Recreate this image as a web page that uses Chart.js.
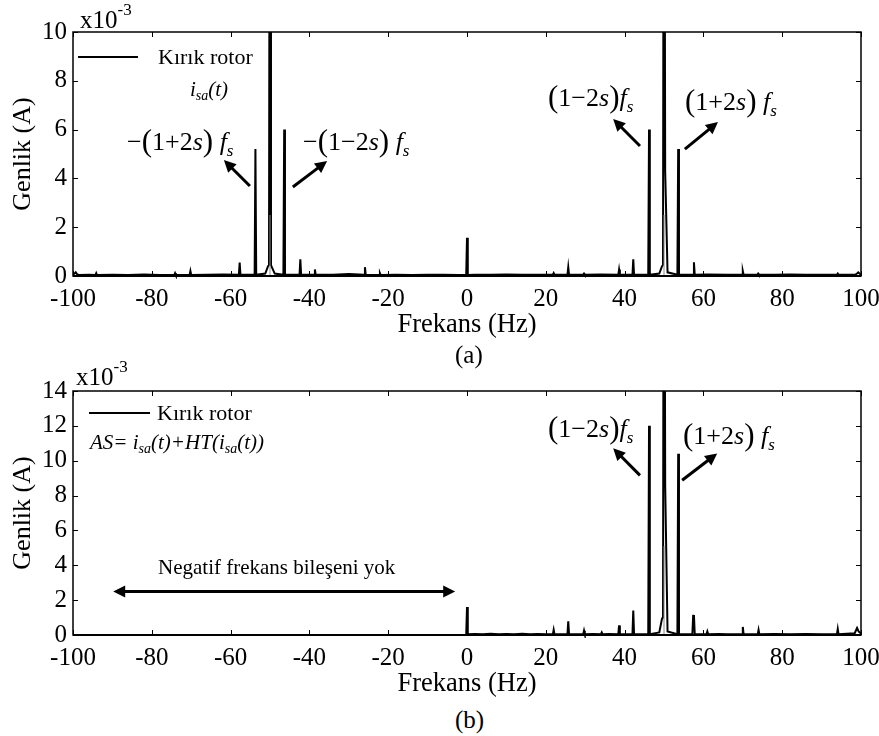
<!DOCTYPE html>
<html>
<head>
<meta charset="utf-8">
<script src="https://cdn.jsdelivr.net/npm/chart.js@4.4.1/dist/chart.umd.min.js"></script>
<style>
  html, body { margin:0; padding:0; background:#fff; }
  #wrap { position:relative; width:879px; height:736px; overflow:hidden; background:#fff; }
  canvas { position:absolute; left:0; }
  .t { position:absolute; font-family:'Liberation Serif','Times New Roman',serif; color:#000; white-space:nowrap; line-height:1; }
  .ann { font-size:26px; }
  .ann .p { font-size:31px; display:inline-block; transform:translateY(1px); }
  .ann i { font-style:italic; }
  .ann sub { font-size:17px; font-style:italic; vertical-align:-6px; line-height:0; }
  .leg { font-size:22px; }
  .form { font-size:21px; font-style:italic; }
  .form sub { font-size:14px; vertical-align:-4px; line-height:0; }
  .lline { position:absolute; height:0; border-top:2px solid #000; }
  .sc { font-size:25px; }
  .sc span { font-size:17px; position:relative; top:-13px; }
</style>
</head>
<body>
<div id="wrap">
  <canvas id="cA" width="879" height="340" style="top:0px;width:879px;height:340px"></canvas>
  <canvas id="cB" width="879" height="340" style="top:359px;width:879px;height:340px"></canvas>

  <!-- panel (a) texts -->
  <div class="t sc" style="left:80px;top:7px">x10<span>-3</span></div>
  <div class="lline" style="left:78px;top:56px;width:60px"></div>
  <div class="t leg" style="left:158px;top:46px">Kırık rotor</div>
  <div class="t form" style="left:190px;top:79px">i<sub>sa</sub>(t)</div>
  <div class="t ann" style="left:127px;top:124px">−<span class="p">(</span>1+2<i>s</i><span class="p">)</span> <i>f</i><sub>s</sub></div>
  <div class="t ann" style="left:303px;top:124px">−<span class="p">(</span>1−2<i>s</i><span class="p">)</span> <i>f</i><sub>s</sub></div>
  <div class="t ann" style="left:548px;top:80px"><span class="p">(</span>1−2<i>s</i><span class="p">)</span><i>f</i><sub>s</sub></div>
  <div class="t ann" style="left:685px;top:84px"><span class="p">(</span>1+2<i>s</i><span class="p">)</span> <i>f</i><sub>s</sub></div>
  <div class="t" style="left:455px;top:342px;font-size:25px">(a)</div>

  <!-- panel (b) texts -->
  <div class="t sc" style="left:76px;top:364px">x10<span>-3</span></div>
  <div class="lline" style="left:89px;top:412px;width:61px"></div>
  <div class="t leg" style="left:157px;top:402px">Kırık rotor</div>
  <div class="t form" style="left:90px;top:432px">AS= i<sub>sa</sub>(t)+HT(i<sub>sa</sub>(t))</div>
  <div class="t" style="left:158px;top:557px;font-size:21px">Negatif frekans bileşeni yok</div>
  <div class="t ann" style="left:548px;top:411px"><span class="p">(</span>1−2<i>s</i><span class="p">)</span><i>f</i><sub>s</sub></div>
  <div class="t ann" style="left:683px;top:418px"><span class="p">(</span>1+2<i>s</i><span class="p">)</span> <i>f</i><sub>s</sub></div>
  <div class="t" style="left:455px;top:707px;font-size:25px">(b)</div>
</div>
<script>
// ---------- DATA ----------
// (a) spectrum of i_sa(t), amplitude in x10^-3 A
const freqA = [
  -100, -99.6, -99.3, -99, -98.5,
  -96, -94.3, -94.1, -93.9, -90,
  -86, -82, -78, -74.3, -74.1, -73.9,
  -70.4, -70.2, -70, -66, -62,
  -57.9, -57.7, -57.5, -53.9, -53.7, -53.5,
  -51.2, -50.5, -50.25, -50, -49.75, -49.5, -48.8,
  -46.6, -46.4, -46.2, -42.5, -42.3, -42.1,
  -38.8, -38.6, -38.4, -34, -30,
  -26.1, -25.9, -25.7, -22.3, -22.1, -21.9,
  -18, -14, -10, -6, -2,
  -0.2, 0, 0.2, 2, 6, 10, 14, 18,
  21.8, 22, 22.2, 25.5, 25.7, 25.9,
  29.5, 29.7, 29.9, 34,
  38.4, 38.6, 38.8, 42, 42.2, 42.4,
  46, 46.2, 46.4, 48.8, 49.5, 49.75, 50, 50.3, 50.9,
  53.4, 53.6, 53.8, 57.4, 57.6, 57.8, 61, 66,
  69.8, 70, 70.2, 73.7, 73.9, 74.1, 78, 82, 86, 90,
  93.9, 94.1, 94.3, 98.5, 99, 99.3, 99.6, 100
];
const ampA = [
  0.06, 0.1, 0.15, 0.08, 0.04,
  0.05, 0.04, 0.12, 0.04, 0.05,
  0.04, 0.06, 0.04, 0.04, 0.12, 0.04,
  0.04, 0.2, 0.04, 0.05, 0.06,
  0.05, 0.55, 0.05, 0.05, 5.2, 0.05,
  0.1, 0.4, 0.45, 30, 0.45, 0.35, 0.1,
  0.05, 6.0, 0.05, 0.05, 0.68, 0.05,
  0.05, 0.27, 0.05, 0.05, 0.08,
  0.05, 0.36, 0.05, 0.04, 0.12, 0.04,
  0.05, 0.04, 0.05, 0.05, 0.04,
  0.04, 1.57, 0.04, 0.05, 0.05, 0.06, 0.05, 0.05,
  0.05, 0.12, 0.05, 0.05, 0.36, 0.05,
  0.05, 0.1, 0.05, 0.06,
  0.05, 0.27, 0.05, 0.05, 0.68, 0.05,
  0.05, 6.0, 0.05, 0.1, 0.4, 0.45, 30, 4.3, 0.15,
  0.05, 5.2, 0.05, 0.05, 0.56, 0.05, 0.06, 0.05,
  0.05, 0.2, 0.05, 0.05, 0.1, 0.05, 0.05, 0.06, 0.05, 0.05,
  0.05, 0.1, 0.05, 0.05, 0.1, 0.15, 0.1, 0.05
];
// grey inner trace at the supply-frequency peaks of (a)
const greyFreqA = [-50, -50, -50, 50, 50];
const greyAmpA  = [0, 2.5, null, 0, 2.5];

// (b) spectrum of analytic signal AS = i_sa(t)+HT(i_sa(t))
const freqB = [
  -100, -0.2, 0, 0.2, 2, 4, 6, 8, 10,
  12, 14, 16, 18, 20,
  21.8, 22, 22.2, 25.5, 25.7, 25.9,
  29.5, 29.7, 29.9, 32, 34, 34.2, 34.4, 36,
  38.4, 38.6, 38.8, 42, 42.2, 42.4,
  46, 46.2, 46.4, 48.8, 49.5, 49.75, 50, 50.3, 50.9,
  53.4, 53.6, 53.8, 57.2, 57.4, 57.6, 57.8,
  60.8, 61, 61.2, 64, 66, 69.8, 70, 70.2,
  73.8, 74, 74.2, 78, 82, 86, 90,
  93.9, 94.1, 94.3, 98.4, 99, 99.4, 100
];
const ampB = [
  0, 0, 1.6, 0.05, 0.06, 0.05, 0.07, 0.05, 0.06,
  0.05, 0.07, 0.05, 0.06, 0.05,
  0.05, 0.3, 0.05, 0.05, 0.78, 0.05,
  0.05, 0.25, 0.05, 0.06, 0.05, 0.15, 0.05, 0.06,
  0.05, 0.55, 0.05, 0.05, 1.4, 0.05,
  0.05, 12.0, 0.05, 0.15, 0.95, 1.0, 40, 8.6, 0.2,
  0.05, 10.4, 0.05, 0.05, 1.1, 1.15, 0.05,
  0.05, 0.2, 0.05, 0.06, 0.05, 0.05, 0.46, 0.05,
  0.05, 0.3, 0.05, 0.06, 0.05, 0.06, 0.05,
  0.05, 0.35, 0.05, 0.1, 0.4, 0.2, 0.08
];
const greyFreqB = [50, 50];
const greyAmpB  = [0, 5.1];

const xTicks = [-100, -80, -60, -40, -20, 0, 20, 40, 60, 80, 100];
const yMaxA = 10, yStepA = 2;
const yMaxB = 14, yStepB = 2;

// ---------- helpers ----------
const FONT = "'Liberation Serif', serif";
function pts(xs, ys) { return xs.map((x, i) => ({ x: x, y: ys[i] })); }

function drawArrowHead(ctx, x1, y1, x2, y2) {
  const a = Math.atan2(y2 - y1, x2 - x1);
  const L = 12, W = 6;
  ctx.beginPath();
  ctx.moveTo(x2, y2);
  ctx.lineTo(x2 - L * Math.cos(a) + W * Math.sin(a), y2 - L * Math.sin(a) - W * Math.cos(a));
  ctx.lineTo(x2 - L * Math.cos(a) - W * Math.sin(a), y2 - L * Math.sin(a) + W * Math.cos(a));
  ctx.closePath();
  ctx.fill();
}

const framePlugin = {
  id: 'frame',
  afterDatasetsDraw(chart, args, opts) {
    const { ctx, chartArea: ca, scales } = chart;
    ctx.save();
    ctx.strokeStyle = '#000';
    ctx.fillStyle = '#000';
    ctx.lineWidth = 1.5;
    ctx.strokeRect(ca.left, ca.top, ca.right - ca.left, ca.bottom - ca.top);
    ctx.lineWidth = 2;
    ctx.beginPath(); ctx.moveTo(ca.left, ca.bottom); ctx.lineTo(ca.right, ca.bottom); ctx.stroke();
    ctx.lineWidth = 1;
    const tl = 5;
    scales.x.ticks.forEach(t => {
      const px = Math.round(scales.x.getPixelForValue(t.value)) + 0.5;
      ctx.beginPath();
      ctx.moveTo(px, ca.bottom); ctx.lineTo(px, ca.bottom - tl);
      ctx.moveTo(px, ca.top); ctx.lineTo(px, ca.top + tl);
      ctx.stroke();
    });
    scales.y.ticks.forEach(t => {
      const py = Math.round(scales.y.getPixelForValue(t.value)) + 0.5;
      ctx.beginPath();
      ctx.moveTo(ca.left, py); ctx.lineTo(ca.left + tl, py);
      ctx.moveTo(ca.right, py); ctx.lineTo(ca.right - tl, py);
      ctx.stroke();
    });
    (opts.arrows || []).forEach(a => {
      const x1 = scales.x.getPixelForValue(a.from[0]), y1 = scales.y.getPixelForValue(a.from[1]);
      const x2 = scales.x.getPixelForValue(a.to[0]), y2 = scales.y.getPixelForValue(a.to[1]);
      const ang = Math.atan2(y2 - y1, x2 - x1);
      ctx.lineWidth = 3;
      ctx.beginPath();
      ctx.moveTo(a.both ? x1 + 8 * Math.cos(ang) : x1, a.both ? y1 + 8 * Math.sin(ang) : y1);
      ctx.lineTo(x2 - 8 * Math.cos(ang), y2 - 8 * Math.sin(ang));
      ctx.stroke();
      drawArrowHead(ctx, x1, y1, x2, y2);
      if (a.both) drawArrowHead(ctx, x2, y2, x1, y1);
    });
    ctx.restore();
  }
};

function makeChart(id, main, grey, yMax, yStep, arrows) {
  return new Chart(document.getElementById(id), {
    type: 'line',
    data: {
      datasets: [
        { data: grey, borderColor: '#8a8a8a', borderWidth: 1, pointRadius: 0, spanGaps: false,
          clip: { left: 0, top: 0, right: 0, bottom: 3 } },
        { data: main, borderColor: '#000', borderWidth: 2, pointRadius: 0, tension: 0,
          clip: { left: 0, top: 0, right: 0, bottom: 3 } }
      ]
    },
    options: {
      responsive: false, animation: false, events: [],
      layout: { padding: { top: 32, right: 18, left: 0, bottom: 0 } },
      plugins: { legend: { display: false }, tooltip: { enabled: false }, frame: { arrows: arrows } },
      scales: {
        x: {
          type: 'linear', min: -100, max: 100,
          afterBuildTicks: s => { s.ticks = xTicks.map(v => ({ value: v })); },
          ticks: { color: '#000', font: { family: FONT, size: 25 }, padding: 8, maxRotation: 0, autoSkip: false },
          grid: { display: false, drawTicks: false }, border: { display: false },
          title: { display: true, text: 'Frekans (Hz)', color: '#000', font: { family: FONT, size: 26.5, lineHeight: 1.1 }, padding: 0 },
          afterFit: s => { s.height = 64; s.paddingLeft = 0; s.paddingRight = 0; }
        },
        y: {
          min: 0, max: yMax,
          ticks: { stepSize: yStep, color: '#000', font: { family: FONT, size: 25 }, padding: 6 },
          grid: { display: false, drawTicks: false }, border: { display: false },
          title: { display: true, text: 'Genlik (A)', color: '#000', font: { family: FONT, size: 26, lineHeight: 1.12 }, padding: { top: 9, bottom: 0 } },
          afterFit: s => { s.width = 73; s.paddingTop = 0; s.paddingBottom = 0; }
        }
      }
    },
    plugins: [framePlugin]
  });
}

function build() {
  makeChart('cA', pts(freqA, ampA), pts(greyFreqA, greyAmpA), yMaxA, yStepA, [
    { from: [-55.1, 3.69], to: [-61.7, 4.75] },
    { from: [-44.2, 3.65], to: [-35.5, 4.71] },
    { from: [43.9, 5.33], to: [37.1, 6.43] },
    { from: [55.3, 5.2], to: [63.7, 6.31] }
  ]);
  makeChart('cB', pts(freqB, ampB), pts(greyFreqB, greyAmpB), yMaxB, yStepB, [
    { from: [43.9, 9.16], to: [37.1, 10.71] },
    { from: [54.6, 8.88], to: [63.5, 10.42] },
    { from: [-89.8, 2.5], to: [-3.0, 2.5], both: true }
  ]);
}
let built = false;
function go() { if (!built) { built = true; build(); } }
if (document.fonts && document.fonts.load) {
  Promise.all([
    document.fonts.load("25px 'Liberation Serif'"),
    document.fonts.load("italic 25px 'Liberation Serif'")
  ]).then(go, go);
  setTimeout(go, 1500);
} else { go(); }
</script>
</body>
</html>
